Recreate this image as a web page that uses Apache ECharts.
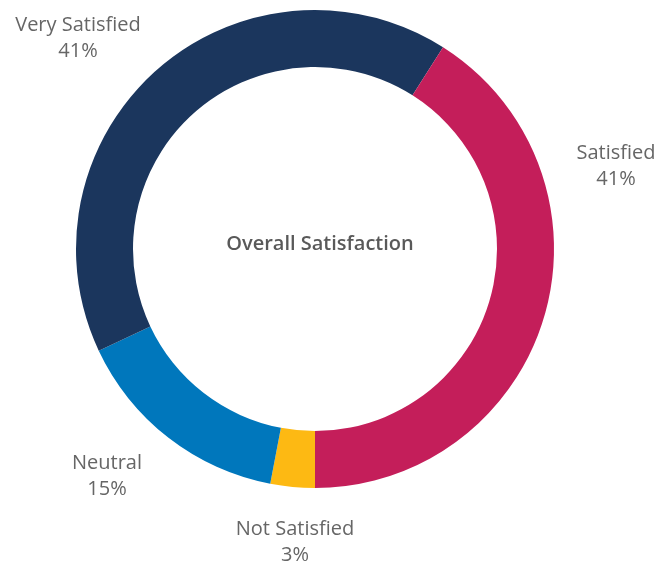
<!DOCTYPE html>
<html>
<head>
<meta charset="utf-8">
<script src="https://cdn.jsdelivr.net/npm/echarts@6/dist/echarts.min.js"></script>
<style>
  html, body { margin: 0; padding: 0; background: #fff; }
  #chart { width: 658px; height: 564px; }
</style>
</head>
<body>
<div id="chart"></div>
<script>
// data, clockwise from the bottom of the ring
var categories = ['Not Satisfied', 'Neutral', 'Very Satisfied', 'Satisfied'];
var values = [3, 15, 41, 41];
var colors = ['#FDB913', '#0077BC', '#1B365D', '#C41E5A'];

// where each label sits (px), excel-style
var labelPos = {
    'Very Satisfied': [78, 38],
    'Satisfied': [616, 166],
    'Neutral': [107, 476],
    'Not Satisfied': [295, 542]
};

var chart = echarts.init(document.getElementById('chart'));

var seriesData = categories.map(function(name, i) {
    return { name: name, value: values[i], itemStyle: { color: colors[i] } };
});

chart.setOption({
    animation: false,
    title: {
        text: 'Overall Satisfaction',
        left: 315,
        top: 229,
        textAlign: 'center',
        textStyle: {
            fontFamily: 'Open Sans',
            fontSize: 20,
            fontWeight: 600,
            color: '#595959'
        }
    },
    series: [{
        type: 'pie',
        center: [315, 249],
        radius: [182, 239],
        startAngle: -90,
        clockwise: true,
        avoidLabelOverlap: false,
        label: {
            show: true,
            position: 'outside',
            formatter: function(p) {
                return p.name + '\n' + Math.round(p.value) + '%';
            },
            fontFamily: 'Open Sans',
            fontSize: 20,
            lineHeight: 26,
            color: '#666666'
        },
        labelLine: { show: false },
        labelLayout: function(params) {
            var name = categories[params.dataIndex];
            var pos = labelPos[name];
            return { x: pos[0], y: pos[1], align: 'center', verticalAlign: 'middle' };
        },
        emphasis: { disabled: true },
        data: seriesData
    }]
});
</script>
</body>
</html>
